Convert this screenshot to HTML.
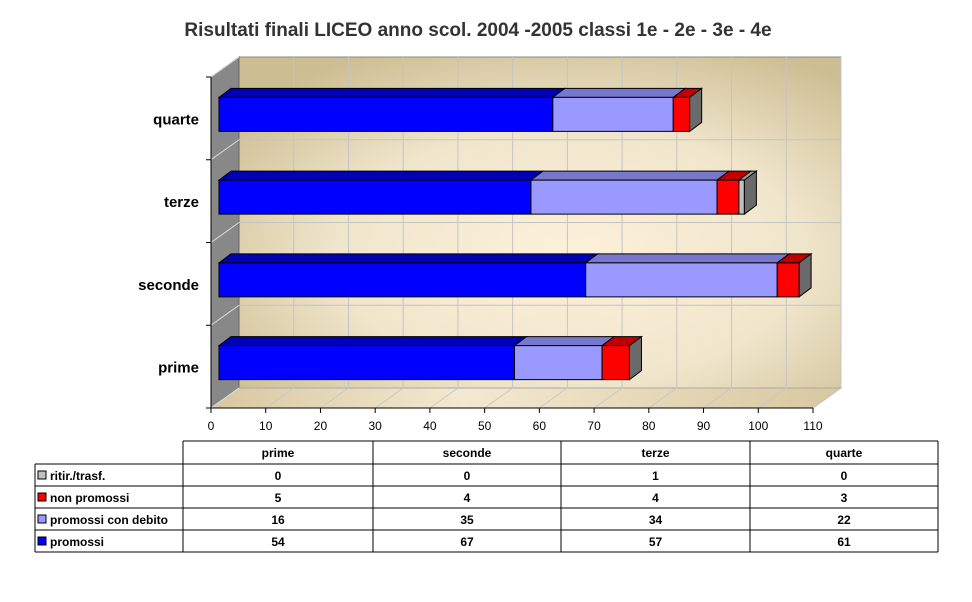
<!DOCTYPE html>
<html><head><meta charset="utf-8"><style>
body{margin:0;background:#fff}
svg{display:block;font-family:"Liberation Sans",sans-serif}
</style></head><body>
<svg id="chart" width="972" height="602" viewBox="0 0 972 602">
<defs>
<radialGradient id="wallg" cx="0.55" cy="0.6" r="0.7">
<stop offset="0" stop-color="#fdf1d9"/><stop offset="0.55" stop-color="#f0e6cc"/><stop offset="1" stop-color="#cdbd92"/>
</radialGradient>
<linearGradient id="floorg" x1="0" y1="0" x2="1" y2="0">
<stop offset="0" stop-color="#d8c8a0"/><stop offset="0.4" stop-color="#f3e9d0"/><stop offset="1" stop-color="#d8c8a0"/>
</linearGradient>
</defs>
<text x="478" y="36" text-anchor="middle" font-size="19" font-weight="bold" fill="#333">Risultati finali LICEO anno scol. 2004 -2005 classi 1e - 2e - 3e - 4e</text>
<g id="plot"></g>
<g id="table"></g>
</svg>
<script>
const categories=["prime","seconde","terze","quarte"];
const seriesNames=["promossi","promossi con debito","non promossi","ritir./trasf."];
const promossi=[54,67,57,61];
const debito=[16,35,34,22];
const nonPromossi=[5,4,4,3];
const ritirati=[0,0,1,0];
const xTicks=[0,10,20,30,40,50,60,70,80,90,100,110];
const series=[promossi,debito,nonPromossi,ritirati];
const fronts=["#0000ff","#9999ff","#ff0000","#c0c0c0"];
const tops=["#0000b4","#7777cc","#c00000","#9a9a9a"];
const NS="http://www.w3.org/2000/svg";
function mk(tag,attrs,parent){const e=document.createElementNS(NS,tag);for(const k in attrs)e.setAttribute(k,attrs[k]);parent.appendChild(e);return e;}
const X0=211,XMAX=110,X1=813,YT=77,YB=408,DX=28,DY=-20;
function xs(v){return X0+(X1-X0)*v/XMAX;}
function catY(i){return YB-(YB-YT)*(i+0.5)/categories.length;}
const plot=document.getElementById('plot');
let w=mk('polygon',{points:`${X0+DX},${YT+DY} ${X1+DX},${YT+DY} ${X1+DX},${YB+DY} ${X0+DX},${YB+DY}`,fill:'url(#wallg)',stroke:'#888'},plot);

let lw=mk('polygon',{points:`${X0},${YT} ${X0+DX},${YT+DY} ${X0+DX},${YB+DY} ${X0},${YB}`,fill:'#888',stroke:'#666'},plot);

let fl=mk('polygon',{points:`${X0},${YB} ${X0+DX},${YB+DY} ${X1+DX},${YB+DY} ${X1},${YB}`,fill:'url(#floorg)',stroke:'#aaa'},plot);

xTicks.forEach(t=>{
  const x=xs(t);
  if(t>0){let g=mk('line',{x1:x+DX,y1:YT+DY,x2:x+DX,y2:YB+DY,stroke:'#c4c4c4'},plot);
  }
  let d=mk('line',{x1:x,y1:YB,x2:x+DX,y2:YB+DY,stroke:'#c8c8c8'},plot);
  
  let tk=mk('line',{x1:x,y1:YB,x2:x,y2:YB+5,stroke:'#000'},plot);
  
  let tl=mk('text',{x:x,y:YB+22,'text-anchor':'middle','font-size':12,fill:'#000'},plot);tl.textContent=t;
  
});
for(let i=0;i<=categories.length;i++){
  const y=YB-(YB-YT)*i/categories.length;
  let g=mk('line',{x1:X0,y1:y,x2:X0+DX,y2:y+DY,stroke:'#ddd'},plot);
  
  if(i>0&&i<categories.length){let h=mk('line',{x1:X0+DX,y1:y+DY,x2:X1+DX,y2:y+DY,stroke:'#c4c4c4'},plot);
  }
  let tk=mk('line',{x1:X0-5,y1:y,x2:X0,y2:y,stroke:'#000'},plot);
  
}
let ax=mk('line',{x1:X0,y1:YT,x2:X0,y2:YB,stroke:'#000'},plot);
let ax2=mk('line',{x1:X0,y1:YB,x2:X1,y2:YB,stroke:'#000'},plot);
const OX=8,OY=-8,BH=34,BDX=12,BDY=-9;
categories.forEach((c,i)=>{
  const cy=catY(i)+OY+4;
  const y0=cy-BH/2;
  let lab=mk('text',{x:X0-12,y:catY(i)+6,'text-anchor':'end','font-size':15,'font-weight':'bold',fill:'#000'},plot);lab.textContent=c;
  
  let acc=0;let lastX=0;
  series.forEach((s,k)=>{
    const v=s[i];if(v<=0)return;
    const xa=xs(acc)+OX,xb=xs(acc+v)+OX;acc+=v;lastX=xb;
    let tp=mk('polygon',{points:`${xa},${y0} ${xa+BDX},${y0+BDY} ${xb+BDX},${y0+BDY} ${xb},${y0}`,fill:tops[k],stroke:'#000','stroke-width':1},plot);
    
    let r=mk('rect',{x:xa,y:y0,width:xb-xa,height:BH,fill:fronts[k],stroke:'#000','stroke-width':1},plot);
    
  });
  let sd=mk('polygon',{points:`${lastX},${y0} ${lastX+BDX},${y0+BDY} ${lastX+BDX},${y0+BDY+BH} ${lastX},${y0+BH}`,fill:'#6a6a6a',stroke:'#000'},plot);
  
});
const tb=document.getElementById('table');
const colX=[35,183,373,561,750,938];
const rowY=[441,464,486,508,530,552];
const legOrder=[3,2,1,0];
function ln(x1,y1,x2,y2){let l=mk('line',{x1,y1,x2,y2,stroke:'#000'},tb);}
ln(colX[1],rowY[0],colX[5],rowY[0]);
for(let r=1;r<rowY.length;r++)ln(colX[0],rowY[r],colX[5],rowY[r]);
ln(colX[0],rowY[1],colX[0],rowY[5]);
for(let c=1;c<colX.length;c++)ln(colX[c],rowY[0],colX[c],rowY[5]);
categories.forEach((c,i)=>{
  let t=mk('text',{x:(colX[i+1]+colX[i+2])/2,y:rowY[0]+16,'text-anchor':'middle','font-size':12,'font-weight':'bold'},tb);t.textContent=c;
  
});
legOrder.forEach((k,r)=>{
  const y=rowY[r+1];
  let sw=mk('rect',{x:colX[0]+3,y:y+7,width:8,height:8,fill:fronts[k],stroke:'#000'},tb);
  
  let t=mk('text',{x:colX[0]+15,y:y+16,'font-size':12,'font-weight':'bold'},tb);t.textContent=seriesNames[k];
  
  categories.forEach((c,i)=>{
    let v=mk('text',{x:(colX[i+1]+colX[i+2])/2,y:y+16,'text-anchor':'middle','font-size':12,'font-weight':'bold'},tb);v.textContent=series[k][i];
    
  });
});
</script>
</body></html>
